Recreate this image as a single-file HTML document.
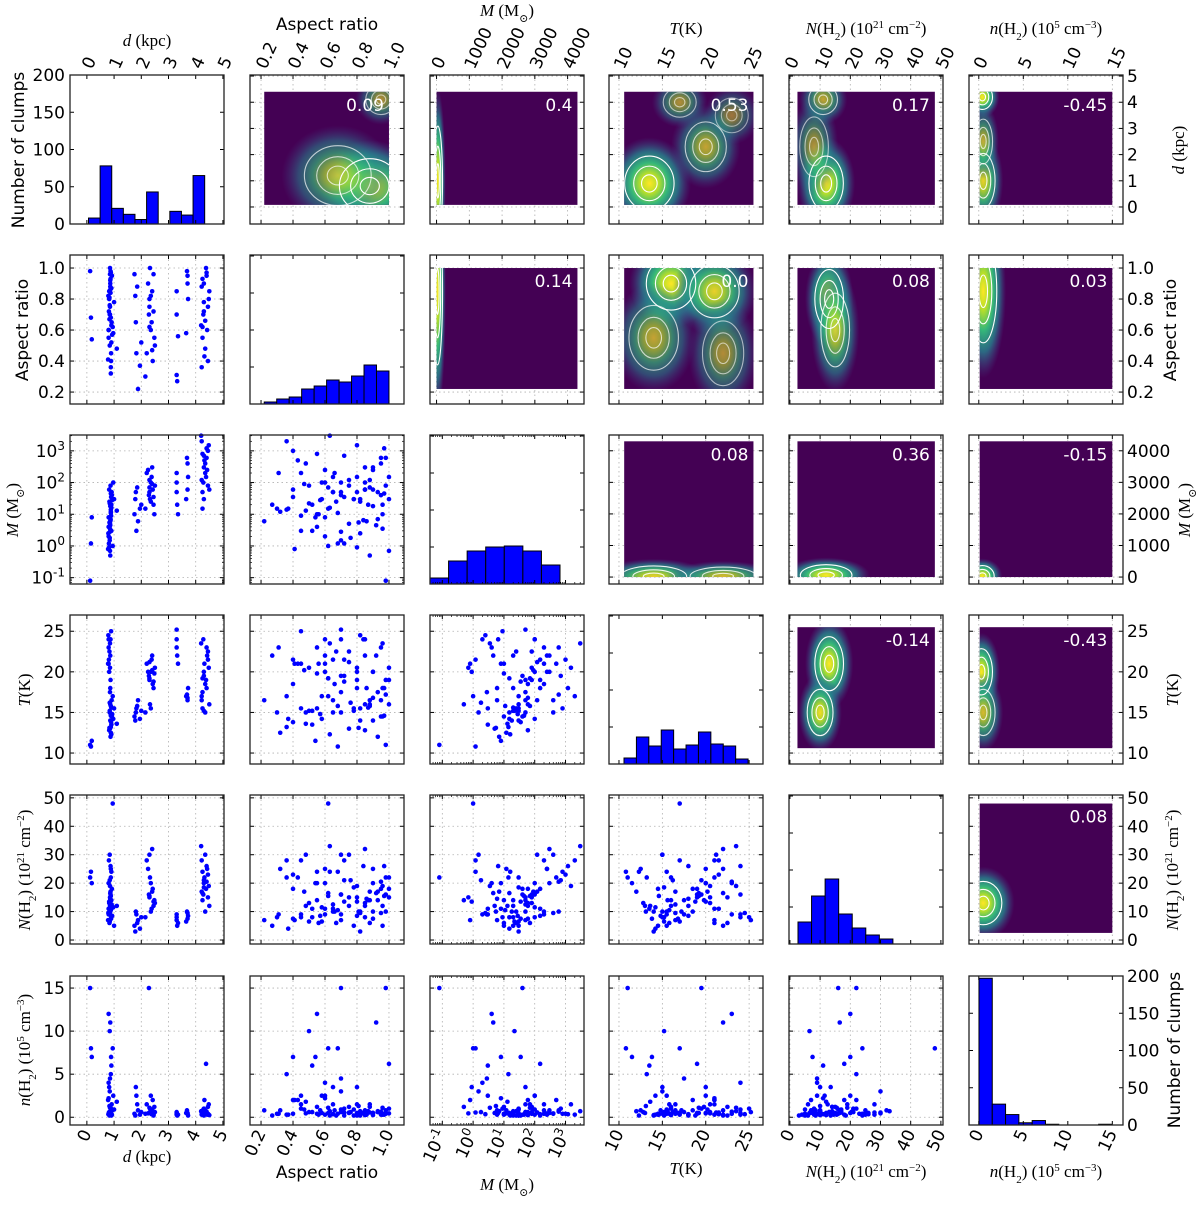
<!DOCTYPE html>
<html><head><meta charset="utf-8"><style>
html,body{margin:0;padding:0;background:#fff}
svg text{font-family:"DejaVu Sans","Liberation Sans",sans-serif}
.m{font-family:"Liberation Serif","DejaVu Serif",serif}
</style></head><body>
<svg id="fig" xmlns="http://www.w3.org/2000/svg" width="1200" height="1202" viewBox="0 0 1200 1202">
<defs>
<radialGradient id="vir" cx="50%" cy="50%" r="50%">
<stop offset="0" stop-color="#fde725"/>
<stop offset="0.22" stop-color="#b5de2b"/>
<stop offset="0.45" stop-color="#35b779"/>
<stop offset="0.7" stop-color="#26828e" stop-opacity="0.8"/>
<stop offset="1" stop-color="#3e4a89" stop-opacity="0"/>
</radialGradient>
</defs>
</svg>
<script>
// ---------- clump data ----------
const dVals=[0.12,0.15,0.18,
0.85,0.78,0.92,0.80,0.88,0.86,0.83,0.90,0.87,0.84,
0.89,0.82,0.95,0.86,0.80,1.00,0.85,0.88,0.79,0.91,
0.87,0.84,0.81,0.97,0.86,0.89,0.85,0.88,0.82,0.90,
0.93,0.86,0.84,1.10,0.87,0.85,0.88,0.80,0.90,0.83,
1.75,1.82,1.78,1.88,1.80,1.95,1.85,2.0,
2.3,2.2,2.45,2.35,2.15,2.4,2.28,2.5,2.32,2.38,2.42,2.25,2.48,2.3,2.35,2.4,2.45,2.3,
3.3,3.65,3.32,3.7,3.3,3.72,3.35,3.68,3.3,3.7,
4.3,4.22,4.45,4.25,4.38,4.2,4.5,4.32,4.4,4.28,4.35,4.48,4.25,4.42,4.3,4.22,4.45,4.35,4.4,4.3,4.25];
const arVals=[0.98,0.68,0.54,
0.75,0.41,0.95,0.6,0.32,0.88,0.67,0.52,0.98,0.7,
0.45,0.85,0.62,0.9,0.55,0.78,1.0,0.36,0.82,0.65,
0.93,0.5,0.72,0.58,0.86,0.4,0.96,0.68,0.8,0.63,
0.57,0.92,0.76,0.48,0.84,0.7,0.97,0.6,0.87,0.81,
0.96,0.45,0.82,0.22,0.65,0.37,0.88,0.52,
0.8,0.45,0.96,0.6,0.3,0.85,0.7,0.5,1.0,0.65,0.4,0.9,0.55,0.75,0.82,0.47,0.72,0.62,
0.85,0.58,0.27,0.95,0.7,0.8,0.56,0.98,0.31,0.9,
0.9,0.36,0.75,0.55,1.0,0.63,0.85,0.43,0.97,0.7,0.48,0.8,0.93,0.6,0.72,0.88,0.4,0.66,0.95,0.78,0.62];
const mVals=[0.08,1.2,8,
5,0.8,40,2,12,0.5,25,3,80,1.5,
9,60,1,18,4,30,0.7,14,2.5,50,
7,22,1.2,100,6,35,3.5,11,0.9,16,
28,4.5,1.8,13,6.5,2.8,45,8,20,5.5,
10,3,30,6,50,15,70,20,
50,200,20,100,15,300,40,80,30,150,60,250,10,120,25,90,35,70,
100,30,20,400,50,150,10,600,200,60,
300,2000,80,800,150,3000,60,500,1200,100,400,1500,50,250,700,120,1000,200,600,30,15];
const tVals=[11,10.8,11.5,
13,21,14.5,24,12.5,16,22.5,13.5,19,15,
25,12.8,17,14,23,15.5,20.5,13.2,24.5,16.5,
12,15.2,21.5,14.2,18,13.8,23.5,15.8,20,12.3,
14.8,22,16.2,13.6,24,17.5,14.6,21,15.6,13.1,
14.5,15.5,14,16.5,15,14.2,15.8,15.2,
19,21,18,20,15,22,19.5,20.5,16,21.5,18.5,20,19.8,21.2,15.5,20.2,18.8,19.2,
24,17,22,16.5,25.2,18,21,17.2,23,16.8,
20,17,22.5,15.5,19,23.5,16,21,18,24,15,20.5,17.5,22,19.5,16.5,21.5,18.5,23,15.2,19.2];
const colDenVals=[22,24,20,
12,7,18,9,25,14,6,11,16,30,
8,13,48,10,20,5,15,22,9.5,12.5,
17,6.5,28,11.5,14.5,7.5,19,10.5,13.5,24,
8.5,16.5,21,12,26,9,15.5,11,14,10,
5,9,3,7,10,4,6,8,
15,28,12,20,8,32,16,13,22,11,18,25,14,30,10,17,13.5,15.5,
8,6.5,5,9.5,7,8.5,6,10,9,7.5,
20,28,15,24,18,33,12,22,26,16,30,19,14,25,21,17,23,10,20.5,18.5,16.5];
const volDenVals=[15,8,7,
0.5,2,0.3,4,0.8,1.2,0.2,6,0.4,3,
1,0.6,8,0.25,12,0.9,0.45,5,0.35,1.5,
0.7,10,0.55,2.5,0.3,7,1.1,0.4,3.5,0.2,
0.8,11,0.6,1.8,0.5,4.5,0.3,2.2,0.7,1.3,
0.4,2.5,0.2,0.8,3.5,0.3,1.5,0.6,
0.5,1.5,0.3,2.5,0.4,0.8,15,0.6,1,0.35,2,0.45,1.2,0.55,0.7,0.9,0.2,1.1,
0.3,0.5,0.2,0.4,0.6,0.2,0.3,0.8,0.4,0.5,
0.5,0.3,1.2,0.4,6.2,0.7,0.25,2,0.35,0.9,0.45,1.5,0.6,0.3,1,0.55,0.4,0.8,0.65,0.2,0.5];

// ---------- histograms ----------
const histStart=[0.06,0.22,-1.4,10.58,2.68,0.02];
const histWidth=[0.427,0.078,0.603,1.43,4.49,1.494];
const histD=[8,78,21,13,6,43,0,17,12,65];
const histAr=[2,5,7,15,18,24,22,28,39,33];
const histM=[6,23,33,37,38,33,19];
const histT=[6,27,18,34,15,19,32,20,18,5];
const histN=[22,48,65,30,16,9,5];
const histNvol=[197,28,14,3,6,1,0,0,0,1];
const histMax=[200,149,149,149,149,200];

// ---------- correlation coefficients (upper panels) ----------
const corrRow=[0,0,0,0,0,1,1,1,1,2,2,2,3,3,4];
const corrCol=[1,2,3,4,5,2,3,4,5,3,4,5,4,5,5];
const corrText=["0.09","0.4","0.53","0.17","-0.45","0.14","0.0","0.08","0.03","0.08","0.36","-0.15","-0.14","-0.43","0.08"];

// ---------- KDE density peaks (data units) ----------
const blobRow=[0,0,0,0,0,0,0,0,0,0,0,0,0,0,1,1,1,1,1,1,1,1,2,2,2,2,3,3,3,3,4];
const blobCol=[1,1,1,2,3,3,3,3,4,4,4,5,5,5,2,3,3,3,3,4,4,5,3,3,4,5,4,4,5,5,5];
const blobX=[0.88,0.68,0.95,40,13.5,20,17,23,12,11,8,0.4,0.5,0.5,30,16,21,14,22,13,15,0.5,14,22,12,0.4,13,10,0.3,0.5,0.5];
const blobY=[0.8,1.2,4.1,1.0,0.9,2.3,4.0,3.5,0.9,4.1,2.3,4.2,1.0,2.5,0.85,0.9,0.85,0.55,0.45,0.8,0.6,0.85,20,30,60,30,21,15,20,15,13];
const blobRX=[0.2,0.22,0.1,150,3,2.5,2,2,6,5,5,1.2,1.4,1.1,160,3,3,3,2.5,5,5,1.6,4,4,9,1.4,5,4.5,1.3,1.4,2.2];
const blobRY=[1.1,1.2,0.6,2.2,1.1,1.0,0.6,0.7,1.1,0.6,1.2,0.5,1.1,0.9,0.5,0.18,0.18,0.22,0.22,0.2,0.25,0.35,350,300,350,350,3.5,3,3,3,8];
const blobW=[1,0.7,0.6,1,1,0.7,0.6,0.5,1,0.7,0.6,1,0.9,0.7,1,1,0.9,0.7,0.6,1,0.8,1,0.9,0.8,1,1,1,0.95,1,0.8,1];

// ---------- axes ----------
const varTicks=[[0,1,2,3,4,5],[0.2,0.4,0.6,0.8,1.0],[0,1000,2000,3000,4000],[10,15,20,25],[0,10,20,30,40,50],[0,5,10,15]];
const varTickLabels=[["0","1","2","3","4","5"],["0.2","0.4","0.6","0.8","1.0"],["0","1000","2000","3000","4000"],["10","15","20","25"],["0","10","20","30","40","50"],["0","5","10","15"]];
const logMTicks=[-1,0,1,2,3];
const logMTickLabels=["-1","0","1","2","3"];
const countTicks=[0,50,100,150,200];

const colX=[70,250,430,609,789,969], rowY=[75,255,435,615,795,976], W=154, H=149;
const xDom=[[-0.62,5.04],[0.131,1.094],[-200,4500],[8.85,26.6],[-0.3,50.7],[-1.1,16.2]];
const yDom=[[-0.65,5.04],[0.123,1.084],[-220,4500],[8.65,27],[-1.4,51],[-0.9,16.4]];
const xLogM=[-1.4,3.6], yLogM=[-1.2,3.5];
const dataRange=[[0.08,4.4],[0.22,1.0],[0,4300],[10.6,25.5],[2.5,48],[0.1,15]];
const vals=[dVals,arVals,mVals,tVals,colDenVals,volDenVals];
const NS="http://www.w3.org/2000/svg";
const svg=document.getElementById('fig');
function mk(tag,attrs,parent){const e=document.createElementNS(NS,tag);for(const k in attrs)e.setAttribute(k,attrs[k]);(parent||svg).appendChild(e);return e;}
function lin(d,p0,p1){return v=>p0+(v-d[0])/(d[1]-d[0])*(p1-p0);}
function xScale(j,log){const s=lin(log?xLogM:xDom[j],colX[j],colX[j]+W);return log?(v=>s(Math.log10(v))):s;}
function yScale(i,log){const s=lin(log?yLogM:yDom[i],rowY[i]+H,rowY[i]);return log?(v=>s(Math.log10(v))):s;}
const nPts=Math.min(...vals.map(a=>a.length));

for(let i=0;i<6;i++)for(let j=0;j<6;j++){
  const g=mk('g',{});
  
  
  const x0=colX[j],y0=rowY[i];
  const upper=j>i, diag=i==j;
  const xlog=(j==2&&!upper), ylog=(i==2&&j<i);
  const xs=xScale(j,xlog), ys=yScale(i,ylog);
  const xt=xlog?logMTicks.map(v=>Math.pow(10,v)):varTicks[j];
  let yt, ysT;
  if(diag){ysT=lin([0,histMax[i]],y0+H,y0); yt=(i==0||i==5)?countTicks:[0,37,74,111,148];}
  else {ysT=ys; yt=ylog?logMTicks.map(v=>Math.pow(10,v)):varTicks[i];}
  if(!diag){
    xt.forEach(v=>{const x=xs(v);if(x>x0&&x<x0+W){const l=mk('line',{x1:x,x2:x,y1:y0,y2:y0+H,stroke:'#b0b0b0','stroke-dasharray':'1.5,3','stroke-width':0.8},g);}});
    yt.forEach(v=>{const y=ysT(v);if(y>y0&&y<y0+H){const l=mk('line',{x1:x0,x2:x0+W,y1:y,y2:y,stroke:'#b0b0b0','stroke-dasharray':'1.5,3','stroke-width':0.8},g);}});
  }
  if(upper){
    const rx0=Math.max(x0,xs(dataRange[j][0])), rx1=Math.min(x0+W,xs(dataRange[j][1]));
    const ry0=Math.max(y0,ys(dataRange[i][1])), ry1=Math.min(y0+H,ys(dataRange[i][0]));
    const cid='clip'+i+j;
    const cp=mk('clipPath',{id:cid},g);mk('rect',{x:rx0,y:ry0,width:rx1-rx0,height:ry1-ry0},cp);
    const hm=mk('rect',{x:rx0,y:ry0,width:rx1-rx0,height:ry1-ry0,fill:'#440154'},g);
    
    
    const bg=mk('g',{'clip-path':'url(#'+cid+')'},g);
    for(let b=0;b<blobRow.length;b++){ if(blobRow[b]!=i||blobCol[b]!=j)continue;
      const cx=xs(blobX[b]),cy=ys(blobY[b]);
      const rx=Math.abs(xs(blobX[b]+blobRX[b])-cx), ry=Math.abs(ys(blobY[b]+blobRY[b])-cy);
      const e=mk('ellipse',{cx:cx,cy:cy,rx:rx*1.6,ry:ry*1.6,fill:'url(#vir)',opacity:blobW[b]},bg);
      
      
    }
    for(let b=0;b<blobRow.length;b++){ if(blobRow[b]!=i||blobCol[b]!=j)continue;
      const cx=xs(blobX[b]),cy=ys(blobY[b]);
      const rx=Math.abs(xs(blobX[b]+blobRX[b])-cx), ry=Math.abs(ys(blobY[b]+blobRY[b])-cy);
      [0.3,0.6,0.95].forEach(s=>{const c=mk('ellipse',{cx:cx,cy:cy,rx:rx*s,ry:ry*s,fill:'none',stroke:'#fff','stroke-width':1.1,opacity:blobW[b]},bg);
        
        });
    }
    for(let k=0;k<corrRow.length;k++) if(corrRow[k]==i&&corrCol[k]==j){
      const t=mk('text',{x:rx1-5,y:ry0+19,'text-anchor':'end','font-size':17,fill:'#fff'},g);t.textContent=corrText[k];
      
      
    }
  } else if(diag){
    const counts=[histD,histAr,histM,histT,histN,histNvol][i];
    const hs=lin(xlog?xLogM:xDom[j],x0,x0+W);
    counts.forEach((c,k)=>{const a=histStart[i]+k*histWidth[i],bx=hs(a),bw=hs(a+histWidth[i])-bx;const y=ysT(c);
      const r=mk('rect',{x:bx,y:y,width:bw,height:y0+H-y,fill:'#0000ff',stroke:'#000','stroke-width':1},g);
      
      });
  } else {
    for(let k=0;k<nPts;k++){const c=mk('circle',{cx:xs(vals[j][k]),cy:ys(vals[i][k]),r:2.3,fill:'#0000ff'},g);
      
      }
  }
  xt.forEach(v=>{const x=xs(v);if(x>=x0-0.5&&x<=x0+W+0.5){mk('line',{x1:x,x2:x,y1:y0+H,y2:y0+H-4,stroke:'#000'},g);mk('line',{x1:x,x2:x,y1:y0,y2:y0+4,stroke:'#000'},g);}});
  if(xlog){for(let e=-2;e<4;e++)for(let m=2;m<10;m++){const x=xs(m*Math.pow(10,e));if(x>x0&&x<x0+W){mk('line',{x1:x,x2:x,y1:y0+H,y2:y0+H-2,stroke:'#000','stroke-width':0.7},g);mk('line',{x1:x,x2:x,y1:y0,y2:y0+2,stroke:'#000','stroke-width':0.7},g);}}}
  yt.forEach(v=>{const y=ysT(v);if(y>=y0-0.5&&y<=y0+H+0.5){mk('line',{x1:x0,x2:x0+4,y1:y,y2:y,stroke:'#000'},g);mk('line',{x1:x0+W,x2:x0+W-4,y1:y,y2:y,stroke:'#000'},g);}});
  if(ylog){for(let e=-2;e<4;e++)for(let m=2;m<10;m++){const y=ys(m*Math.pow(10,e));if(y>y0&&y<y0+H){mk('line',{x1:x0,x2:x0+2,y1:y,y2:y,stroke:'#000','stroke-width':0.7},g);mk('line',{x1:x0+W,x2:x0+W-2,y1:y,y2:y,stroke:'#000','stroke-width':0.7},g);}}}
  const fr=mk('rect',{x:x0,y:y0,width:W,height:H,fill:'none',stroke:'#222','stroke-width':1.3},g);
  
  
}

function tl(x,y,txt,anchor,rot,sup){const t=mk('text',{x:x,y:y,'font-size':17,'text-anchor':anchor,fill:'#000'});
  if(rot)t.setAttribute('transform','rotate('+rot+' '+x+' '+y+')');
  if(sup!==undefined){t.textContent='10';const s=mk('tspan',{'baseline-shift':'super','font-size':12},t);s.textContent=sup;}else t.textContent=txt;
  
  return t;}
for(let j=0;j<6;j++){
  const xs=xScale(j,false);
  varTicks[j].forEach((v,k)=>{tl(xs(v)+5,rowY[0]-5,varTickLabels[j][k],'start',-65);});
  if(j==2){const xl=xScale(2,true);logMTicks.forEach((v,k)=>tl(xl(Math.pow(10,v))+5,rowY[5]+H+8,'', 'end',-65,logMTickLabels[k]));}
  else varTicks[j].forEach((v,k)=>tl(xs(v)+5,rowY[5]+H+8,varTickLabels[j][k],'end',-65));
}
for(let i=0;i<6;i++){
  if(i==0){const s=lin([0,200],rowY[0]+H,rowY[0]);countTicks.forEach(v=>tl(colX[0]-5,s(v)+6,String(v),'end',0));}
  else if(i==2){const yl=yScale(2,true);logMTicks.forEach((v,k)=>tl(colX[0]-5,yl(Math.pow(10,v))+6,'','end',0,logMTickLabels[k]));}
  else {const ys=yScale(i,false);varTicks[i].forEach((v,k)=>tl(colX[0]-5,ys(v)+6,varTickLabels[i][k],'end',0));}
  if(i==5){const s=lin([0,200],rowY[5]+H,rowY[5]);countTicks.forEach(v=>tl(colX[5]+W+4,s(v)+6,String(v),'start',0));}
  else {const ys=yScale(i,false);varTicks[i].forEach((v,k)=>tl(colX[5]+W+4,ys(v)+6,varTickLabels[i][k],'start',0));}
}
</script>
<svg style="position:absolute;left:0;top:0" width="1200" height="1202">
<g font-size="17" fill="#000">
<text class="m" x="147" y="46" text-anchor="middle"><tspan font-style="italic">d</tspan> (kpc)</text>
<text x="327" y="30" text-anchor="middle">Aspect ratio</text>
<text class="m" x="507" y="16" text-anchor="middle"><tspan font-style="italic">M</tspan> (M<tspan font-size="11" baseline-shift="sub">⊙</tspan>)</text>
<text class="m" x="686" y="34" text-anchor="middle"><tspan font-style="italic">T</tspan>(K)</text>
<text class="m" x="866" y="34" text-anchor="middle"><tspan font-style="italic">N</tspan>(H<tspan font-size="11" baseline-shift="sub">2</tspan>) (10<tspan font-size="11" baseline-shift="super">21</tspan> cm<tspan font-size="11" baseline-shift="super">−2</tspan>)</text>
<text class="m" x="1046" y="34" text-anchor="middle"><tspan font-style="italic">n</tspan>(H<tspan font-size="11" baseline-shift="sub">2</tspan>) (10<tspan font-size="11" baseline-shift="super">5</tspan> cm<tspan font-size="11" baseline-shift="super">−3</tspan>)</text>
<text class="m" x="147" y="1162" text-anchor="middle"><tspan font-style="italic">d</tspan> (kpc)</text>
<text x="327" y="1178" text-anchor="middle">Aspect ratio</text>
<text class="m" x="507" y="1190" text-anchor="middle"><tspan font-style="italic">M</tspan> (M<tspan font-size="11" baseline-shift="sub">⊙</tspan>)</text>
<text class="m" x="686" y="1174" text-anchor="middle"><tspan font-style="italic">T</tspan>(K)</text>
<text class="m" x="866" y="1177" text-anchor="middle"><tspan font-style="italic">N</tspan>(H<tspan font-size="11" baseline-shift="sub">2</tspan>) (10<tspan font-size="11" baseline-shift="super">21</tspan> cm<tspan font-size="11" baseline-shift="super">−2</tspan>)</text>
<text class="m" x="1046" y="1177" text-anchor="middle"><tspan font-style="italic">n</tspan>(H<tspan font-size="11" baseline-shift="sub">2</tspan>) (10<tspan font-size="11" baseline-shift="super">5</tspan> cm<tspan font-size="11" baseline-shift="super">−3</tspan>)</text>
<text x="24" y="150" text-anchor="middle" transform="rotate(-90 24 150)">Number of clumps</text>
<text x="28" y="330" text-anchor="middle" transform="rotate(-90 28 330)">Aspect ratio</text>
<text class="m" x="18" y="510" text-anchor="middle" transform="rotate(-90 18 510)"><tspan font-style="italic">M</tspan> (M<tspan font-size="11" baseline-shift="sub">⊙</tspan>)</text>
<text class="m" x="30" y="690" text-anchor="middle" transform="rotate(-90 30 690)"><tspan font-style="italic">T</tspan>(K)</text>
<text class="m" x="30" y="870" text-anchor="middle" transform="rotate(-90 30 870)"><tspan font-style="italic">N</tspan>(H<tspan font-size="11" baseline-shift="sub">2</tspan>) (10<tspan font-size="11" baseline-shift="super">21</tspan> cm<tspan font-size="11" baseline-shift="super">−2</tspan>)</text>
<text class="m" x="30" y="1050" text-anchor="middle" transform="rotate(-90 30 1050)"><tspan font-style="italic">n</tspan>(H<tspan font-size="11" baseline-shift="sub">2</tspan>) (10<tspan font-size="11" baseline-shift="super">5</tspan> cm<tspan font-size="11" baseline-shift="super">−3</tspan>)</text>
<text class="m" x="1184" y="150" text-anchor="middle" transform="rotate(-90 1184 150)"><tspan font-style="italic">d</tspan> (kpc)</text>
<text x="1176" y="330" text-anchor="middle" transform="rotate(-90 1176 330)">Aspect ratio</text>
<text class="m" x="1190" y="510" text-anchor="middle" transform="rotate(-90 1190 510)"><tspan font-style="italic">M</tspan> (M<tspan font-size="11" baseline-shift="sub">⊙</tspan>)</text>
<text class="m" x="1178" y="690" text-anchor="middle" transform="rotate(-90 1178 690)"><tspan font-style="italic">T</tspan>(K)</text>
<text class="m" x="1178" y="870" text-anchor="middle" transform="rotate(-90 1178 870)"><tspan font-style="italic">N</tspan>(H<tspan font-size="11" baseline-shift="sub">2</tspan>) (10<tspan font-size="11" baseline-shift="super">21</tspan> cm<tspan font-size="11" baseline-shift="super">−2</tspan>)</text>
<text x="1180" y="1050" text-anchor="middle" transform="rotate(-90 1180 1050)">Number of clumps</text>
</g>
</svg>
</body></html>
